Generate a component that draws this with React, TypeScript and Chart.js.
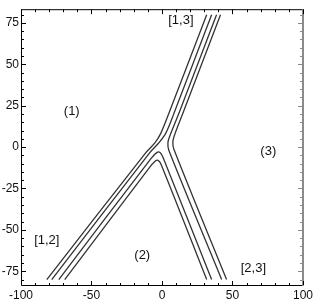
import React, { useEffect, useRef } from "react";
import { Chart, registerables } from "chart.js";

Chart.register(...registerables);

const xTickValues = [-100, -50, 0, 50, 100];
const yTickValues = [-75, -50, -25, 0, 25, 50, 75];

// contour family bounding region (1)
const a1X = [31.7, 4.9, -0.7, -4.9, -11.3, -81.7];
const a1Y = [80, 20.4, 8.6, 2.7, -3.2, -80];
const a2X = [35.2, 8.5, 2.8, -2.1, -8.5, -78.2];
const a2Y = [80, 20.4, 8.6, 2.7, -3.2, -80];
// contour family bounding region (3)
const b1X = [38.7, 12.0, 5.6, 4.2, 4.9, 42.3];
const b1Y = [80, 20.4, 6.8, 2.7, -2.1, -80];
const b2X = [41.5, 14.8, 9.2, 7.7, 8.5, 45.8];
const b2Y = [80, 20.4, 8.0, 3.2, -1.5, -80];
// contour family bounding region (2)
const c1X = [-69.0, -9.2, -4.9, -2.8, -0.7, 31.7];
const c1Y = [-80, -12.7, -8.6, -8.0, -10.3, -80];
const c2X = [-73.2, -7.7, -3.5, -1.4, 0.7, 35.2];
const c2Y = [-80, -6.8, -3.2, -3.2, -6.2, -80];

const labelTexts = ["(1)", "(2)", "(3)", "[1,3]", "[1,2]", "[2,3]"];
const labelX = [-64, -14, 75.4, 13.4, -81.7, 64.8];
const labelY = [21.6, -65.3, -2.7, 76.5, -56.4, -73];

const toPts = (xs: number[], ys: number[]) => xs.map((x, i) => ({ x, y: ys[i] }));

const curves = [
  toPts(a1X, a1Y),
  toPts(a2X, a2Y),
  toPts(b1X, b1Y),
  toPts(b2X, b2Y),
  toPts(c1X, c1Y),
  toPts(c2X, c2Y),
];

const framePlugin = {
  id: "framePlugin",
  afterDraw(chart: any) {
    const { ctx, chartArea, scales } = chart;
    const { left, right, top, bottom } = chartArea;
    const xs = scales.x;
    const ys = scales.y;
    ctx.save();
    // region labels
    ctx.fillStyle = "#111";
    ctx.font = "13px 'Liberation Sans', Arial, sans-serif";
    ctx.textAlign = "center";
    ctx.textBaseline = "middle";
    labelTexts.forEach((t, i) => {
      ctx.fillText(t, xs.getPixelForValue(labelX[i]), ys.getPixelForValue(labelY[i]));
    });
    // frame
    ctx.lineWidth = 1;
    ctx.strokeStyle = "#000";
    ctx.beginPath();
    ctx.moveTo(left + 0.5, top + 0.5);
    ctx.lineTo(left + 0.5, bottom + 0.5);
    ctx.lineTo(right, bottom + 0.5);
    ctx.moveTo(left, top + 0.5);
    ctx.lineTo(right, top + 0.5);
    ctx.stroke();
    ctx.strokeStyle = "#8a8a8a";
    ctx.lineWidth = 2;
    ctx.beginPath();
    ctx.moveTo(right, top);
    ctx.lineTo(right, bottom + 1);
    ctx.stroke();
    // ticks
    ctx.lineWidth = 1;
    for (let v = -80; v <= 80; v += 5) {
      const py = Math.round(ys.getPixelForValue(v)) + 0.5;
      const len = v % 25 === 0 ? 4 : 2;
      ctx.strokeStyle = "#000";
      ctx.beginPath();
      ctx.moveTo(left, py);
      ctx.lineTo(left + len + 1, py);
      ctx.stroke();
      ctx.strokeStyle = "#8a8a8a";
      ctx.beginPath();
      ctx.moveTo(right, py);
      ctx.lineTo(right - len - 1, py);
      ctx.stroke();
    }
    for (let v = -100; v <= 100; v += 10) {
      const px = Math.round(xs.getPixelForValue(v)) + 0.5;
      const len = v % 50 === 0 ? 4 : 2;
      ctx.strokeStyle = "#000";
      ctx.beginPath();
      ctx.moveTo(px, bottom);
      ctx.lineTo(px, bottom - len);
      ctx.moveTo(px, top);
      ctx.lineTo(px, top + len + 1);
      ctx.stroke();
    }
    ctx.restore();
  },
};

export default function App() {
  const ref = useRef<HTMLCanvasElement | null>(null);
  useEffect(() => {
    document.body.style.margin = "0";
    if (!ref.current) return;
    const chart = new Chart(ref.current, {
      type: "scatter",
      data: {
        datasets: curves.map((pts) => ({
          data: pts,
          showLine: true,
          borderColor: "#333",
          borderWidth: 1.3,
          pointRadius: 0,
          tension: 0.3,
          fill: false,
        })),
      },
      options: {
        animation: false,
        responsive: false,
        devicePixelRatio: 1,
        layout: { padding: { top: 3, right: 11, left: 0, bottom: 0 } },
        plugins: { legend: { display: false }, tooltip: { enabled: false } },
        scales: {
          x: {
            type: "linear",
            min: -100,
            max: 100,
            afterFit: (s: any) => {
              s.height = 19;
            },
            afterBuildTicks: (s: any) => {
              s.ticks = xTickValues.map((v) => ({ value: v }));
            },
            ticks: {
              font: { family: "'Liberation Sans', Arial, sans-serif", size: 12 },
              color: "#111",
              padding: 3,
              maxRotation: 0,
              autoSkip: false,
            },
            grid: { display: false, drawTicks: false, tickLength: 0 },
            border: { display: false },
          },
          y: {
            type: "linear",
            min: -83.3,
            max: 83.3,
            afterFit: (s: any) => {
              s.width = 21;
            },
            afterBuildTicks: (s: any) => {
              s.ticks = yTickValues.map((v) => ({ value: v }));
            },
            ticks: {
              font: { family: "'Liberation Sans', Arial, sans-serif", size: 12 },
              color: "#111",
              padding: 2,
              autoSkip: false,
            },
            grid: { display: false, drawTicks: false, tickLength: 0 },
            border: { display: false },
          },
        },
      },
      plugins: [framePlugin],
    });
    return () => chart.destroy();
  }, []);
  return <canvas ref={ref} width={316} height={304} style={{ display: "block" }} />;
}
